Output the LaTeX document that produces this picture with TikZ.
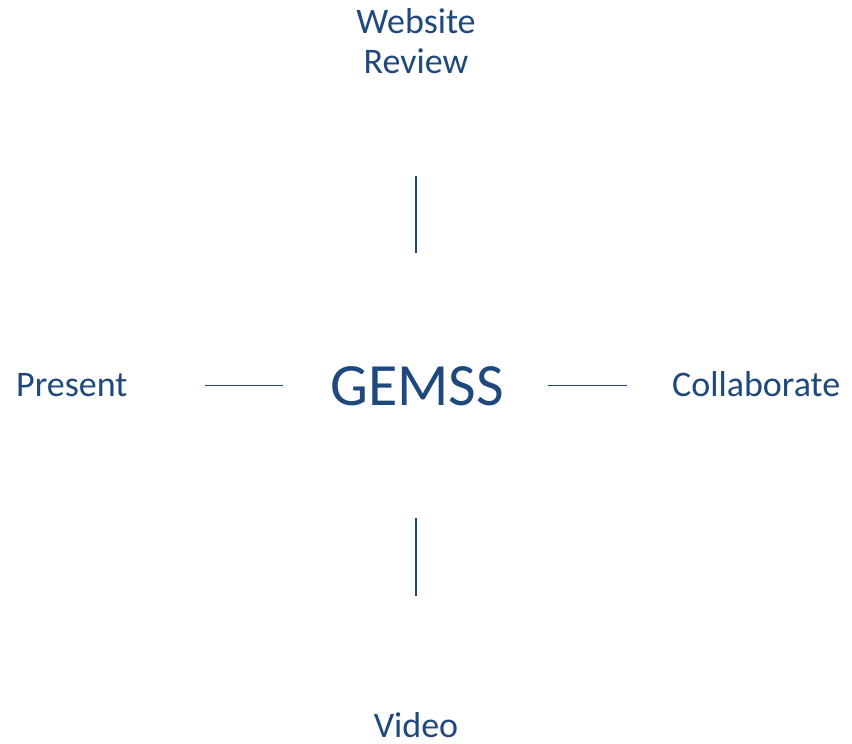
\documentclass[tikz,border=0pt]{standalone}
\usepackage{fontspec}
\setmainfont{Carlito}
\definecolor{gblue}{HTML}{1F497D}
\begin{document}
\begin{tikzpicture}[x=1pt,y=-1pt,
  lbl/.style={inner sep=0pt,text=gblue,font=\fontsize{36}{40}\selectfont},
  hub/.style={inner sep=0pt,text=gblue,font=\fontsize{60}{70}\selectfont},
  conn/.style={draw=gblue,line width=1.9pt}]
\useasboundingbox (0,0) rectangle (852,744);
\node[hub,anchor=base] (gem) at (417,405) {GEMSS};
\node[lbl,anchor=base] (web) at (416,33) {Website};
\node[lbl,anchor=base] (rev) at (416,73) {Review};
\node[lbl,anchor=base west] (pres) at (16,396) {Present};
\node[lbl,anchor=base west] (coll) at (672,396) {Collaborate};
\node[lbl,anchor=base] (vid) at (416,737) {Video};
\coordinate (t1) at (416,176); \coordinate (t2) at (416,253);
\coordinate (b1) at (416,518); \coordinate (b2) at (416,596);
\coordinate (l1) at (205,385.5); \coordinate (l2) at (283,385.5);
\coordinate (r1) at (548,385.5); \coordinate (r2) at (627,385.5);
\draw[conn] (t1) -- (t2);
\draw[conn] (b1) -- (b2);
\draw[conn] (l1) -- (l2);
\draw[conn] (r1) -- (r2);
\end{tikzpicture}
\end{document}
